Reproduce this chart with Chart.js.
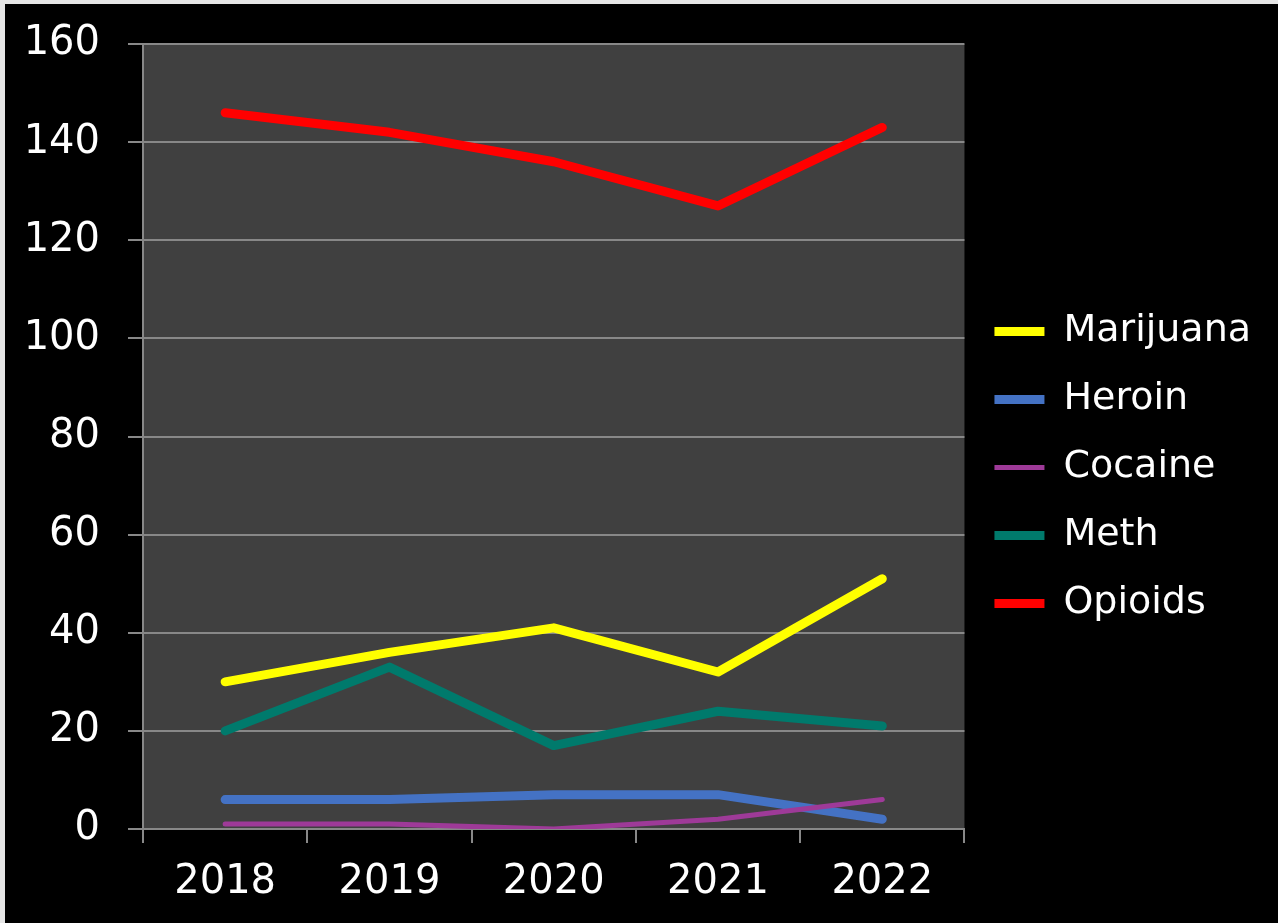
<!DOCTYPE html>
<html>
<head>
<meta charset="utf-8">
<script src="https://cdn.jsdelivr.net/npm/chart.js@4/dist/chart.umd.min.js"></script>
<style>
  html, body { margin: 0; padding: 0; background: #e6e6e6; }
  #wrap { position: absolute; left: 5px; top: 4px; width: 1273px; height: 919px; background: #000; }
</style>
</head>
<body>
<div id="wrap"><canvas id="drugChart" width="1273" height="919"></canvas></div>
<script>
// Chart data
const years = ['2018', '2019', '2020', '2021', '2022'];
const marijuana = [30, 36, 41, 32, 51];
const heroin = [6, 6, 7, 7, 2];
const cocaine = [1, 1, 0, 2, 6];
const meth = [20, 33, 17, 24, 21];
const opioids = [146, 142, 136, 127, 143];
const yTicks = [0, 20, 40, 60, 80, 100, 120, 140, 160];

const FONT = '"DejaVu Sans", sans-serif';
const GRID = '#888888';

// Paint the dark plot area behind the lines
const plotBackground = {
    id: 'plotBackground',
    beforeDraw(chart) {
        const { ctx, chartArea } = chart;
        ctx.save();
        ctx.fillStyle = '#000';
        ctx.fillRect(0, 0, chart.width, chart.height);
        ctx.fillStyle = '#404040';
        ctx.fillRect(chartArea.left, chartArea.top, chartArea.right - chartArea.left, chartArea.bottom - chartArea.top);
        ctx.restore();
    }
};

const line = (label, data, color, width, order) => ({
    label, data,
    borderColor: color,
    backgroundColor: color,
    borderWidth: width,
    borderCapStyle: 'round',
    borderJoinStyle: 'round',
    pointRadius: 0,
    tension: 0,
    order
});

const ctx = document.getElementById('drugChart').getContext('2d');
new Chart(ctx, {
    type: 'line',
    data: {
        labels: years,
        datasets: [
            line('Marijuana', marijuana, '#FFFF00', 9, 1),
            line('Heroin', heroin, '#4472C4', 9, 1),
            line('Cocaine', cocaine, '#9E3A98', 5, 0),
            line('Meth', meth, '#007A6C', 9, 1),
            line('Opioids', opioids, '#FF0000', 9, 1)
        ]
    },
    options: {
        responsive: false,
        animation: false,
        layout: { padding: { left: 0, top: 8, right: 17, bottom: 0 } },
        plugins: {
            tooltip: { enabled: false },
            legend: {
                position: 'right',
                labels: {
                    color: '#fff',
                    font: { family: FONT, size: 38 },
                    usePointStyle: true,
                    pointStyle: 'line',
                    pointStyleWidth: 50,
                    boxHeight: 38,
                    padding: 30,
                    sort: (a, b) => a.datasetIndex - b.datasetIndex
                }
            }
        },
        scales: {
            x: {
                offset: true,
                grid: { offset: true, drawOnChartArea: false, color: GRID, tickLength: 14, lineWidth: 2 },
                border: { color: GRID, width: 2 },
                ticks: { color: '#fff', font: { family: FONT, size: 40, lineHeight: 1.2 }, padding: 16, maxRotation: 0 }
            },
            y: {
                min: 0, max: 160,
                afterBuildTicks: axis => { axis.ticks = yTicks.map(v => ({ value: v })); },
                afterFit: axis => { axis.width = 138; },
                grid: { color: GRID, tickLength: 15, lineWidth: 2 },
                border: { color: GRID, width: 2 },
                ticks: { color: '#fff', font: { family: FONT, size: 40, lineHeight: 0.6 }, padding: 28, autoSkip: false }
            }
        }
    },
    plugins: [plotBackground]
});
</script>
</body>
</html>
